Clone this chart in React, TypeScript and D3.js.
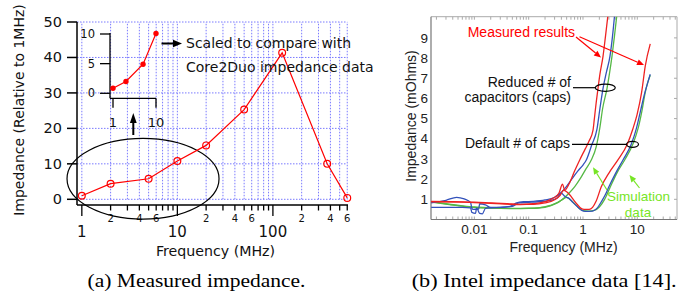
import React from 'react';
import * as d3 from 'd3';

// ---------- (a) Measured impedance ----------
const freqMHz = [1, 2, 5, 10, 20, 50, 125, 370, 600];
const impedanceRel = [1, 4.4, 5.8, 10.8, 15.2, 25.3, 41.3, 10.0, 0.4];
const insetFreq = [1, 2, 5, 10];
const insetImp = [0.85, 2.0, 4.9, 10.1];
const leftYTicks = [0, 10, 20, 30, 40, 50];
const leftMajorX = [1, 10, 100];
const leftMinorLabels = [2, 4, 6, 20, 40, 60, 200, 400, 600];
const insetYTicks = [0, 5, 10];
const insetXTicks = [1, 10];

// ---------- (b) Intel impedance data ----------
const rightYTicks = [1, 2, 3, 4, 5, 6, 7, 8, 9];
const rightXTicks = [0.01, 0.1, 1, 10];
const rightXLabels = ['0.01', '0.1', '1', '10'];

const redReduced: [number, number][] = [
  [0.0016, 0.88], [0.004, 0.87], [0.01, 0.84], [0.02, 0.8], [0.04, 0.76], [0.07, 0.74],
  [0.12, 0.78], [0.2, 0.88], [0.28, 1.05], [0.36, 1.3], [0.42, 1.75], [0.46, 1.45],
  [0.55, 1.75], [0.7, 2.4], [0.87, 2.95], [1.1, 3.5], [1.3, 3.9], [1.53, 4.43],
  [1.62, 5.0], [1.75, 5.8], [1.89, 6.5], [2.05, 7.2], [2.34, 8.1], [2.6, 9.1], [2.9, 10.2],
];
const redDefault: [number, number][] = [
  [0.0016, 0.9], [0.004, 0.88], [0.01, 0.86], [0.02, 0.82], [0.04, 0.78], [0.07, 0.75],
  [0.12, 0.75], [0.2, 0.82], [0.3, 0.98], [0.38, 1.2], [0.44, 1.45], [0.5, 1.38],
  [0.58, 1.2], [0.68, 0.95], [0.8, 0.72], [0.92, 0.55], [1.05, 0.5], [1.3, 0.5],
  [1.5, 0.6], [1.74, 0.9], [2.17, 1.62], [3.0, 2.3], [4.4, 2.95], [6.5, 3.72],
  [8.3, 4.5], [9.9, 5.2], [12, 6.3], [14, 7.6], [17.3, 8.7],
];
const greenReduced: [number, number][] = [
  [0.0016, 0.88], [0.003, 0.78], [0.006, 0.68], [0.01, 0.62], [0.02, 0.58], [0.05, 0.55],
  [0.1, 0.56], [0.15, 0.58], [0.25, 0.7], [0.4, 0.95], [0.55, 1.3], [0.7, 1.62],
  [0.9, 2.05], [1.1, 2.45], [1.42, 2.95], [1.75, 3.6], [2.03, 4.5], [2.3, 5.5],
  [2.77, 6.5], [3.1, 7.3], [3.42, 8.1], [3.8, 9.1], [4.23, 10.2],
];
const greenDefault: [number, number][] = [
  [0.0016, 0.86], [0.003, 0.76], [0.006, 0.66], [0.01, 0.6], [0.02, 0.56], [0.05, 0.54],
  [0.1, 0.55], [0.15, 0.57], [0.25, 0.68], [0.35, 0.85], [0.45, 1.05], [0.5, 1.1],
  [0.6, 0.95], [0.75, 0.7], [0.9, 0.5], [1.0, 0.44], [1.3, 0.42], [1.6, 0.45],
  [2.0, 0.62], [2.5, 1.0], [3.19, 1.62], [4.2, 2.3], [5.85, 2.95], [8.3, 3.74],
  [10.3, 4.5], [12.2, 5.4], [14, 6.3], [15.7, 6.82], [17.3, 7.15],
];
const blueReduced: [number, number][] = [
  [0.0016, 0.83], [0.003, 0.95], [0.0047, 1.1], [0.0065, 1.02], [0.0085, 0.85],
  [0.009, 0.55], [0.0095, 0.5], [0.012, 0.52], [0.0125, 0.78], [0.016, 0.72],
  [0.02, 0.6], [0.03, 0.6], [0.045, 0.65], [0.06, 0.82], [0.08, 0.88], [0.12, 0.9],
  [0.2, 0.97], [0.3, 1.1], [0.4, 1.35], [0.49, 1.62], [0.62, 2.0], [0.8, 2.4],
  [1.0, 2.7], [1.15, 2.95], [1.45, 3.7], [1.8, 4.45], [2.05, 5.5], [2.34, 6.5],
  [2.7, 7.3], [3.14, 8.1], [3.5, 9.1], [3.84, 10.2],
];
const blueDefault: [number, number][] = [
  [0.0016, 0.6], [0.003, 0.6], [0.006, 0.6], [0.0085, 0.58], [0.009, 0.35],
  [0.0105, 0.3], [0.011, 0.58], [0.0125, 0.3], [0.014, 0.28], [0.016, 0.55],
  [0.02, 0.58], [0.03, 0.6], [0.05, 0.65], [0.065, 0.82], [0.1, 0.85], [0.15, 0.88],
  [0.25, 0.95], [0.33, 1.05], [0.4, 1.3], [0.46, 1.15], [0.55, 1.05], [0.65, 0.85],
  [0.8, 0.62], [0.95, 0.45], [1.1, 0.4], [1.5, 0.42], [1.8, 0.55], [2.2, 0.9],
  [2.6, 1.25], [3.0, 1.62], [4.0, 2.3], [5.45, 2.95], [7.77, 3.74], [9.6, 4.5],
  [11.5, 5.4], [13.5, 6.2], [15.7, 6.82], [17.3, 7.2],
];

const SANS_L = 'DejaVu Sans, sans-serif';
const SANS_R = 'Liberation Sans, Arial, sans-serif';
const SERIF = 'Liberation Serif, Times New Roman, serif';

const RED = '#ff0000';
const CURVE_RED = '#ee2222';
const CURVE_BLUE = '#3352bb';
const CURVE_GREEN = '#55b845';
const TEXT_GREEN = '#77e526';
const GRID = '#7a7aff';

function arrow(x1: number, y1: number, x2: number, y2: number, len = 7, w = 3) {
  const a = Math.atan2(y2 - y1, x2 - x1);
  const bx = x2 - len * Math.cos(a);
  const by = y2 - len * Math.sin(a);
  const px = -Math.sin(a) * w;
  const py = Math.cos(a) * w;
  return {
    line: `M${x1},${y1}L${bx},${by}`,
    head: `M${x2},${y2}L${bx + px},${by + py}L${bx - px},${by - py}Z`,
  };
}

function Arrow({ x1, y1, x2, y2, color, len = 7, w = 3, sw = 1.2 }: any) {
  const a = arrow(x1, y1, x2, y2, len, w);
  return (
    <g>
      <path d={a.line} stroke={color} strokeWidth={sw} fill="none" />
      <path d={a.head} fill={color} stroke="none" />
    </g>
  );
}

export default function App() {
  // Left scales
  const xL = d3.scaleLog().domain([0.89, 611]).range([77, 348]);
  const yL = d3.scaleLinear().domain([0, 50]).range([199.3, 22]);
  const axisY = 205;

  const logTicks: { v: number; major: boolean }[] = [];
  [1, 10, 100].forEach((dec) => {
    for (let k = 1; k <= 9; k++) {
      const v = k * dec;
      if (v <= 600) logTicks.push({ v, major: k === 1 });
    }
  });

  const mainLine = d3
    .line<number>()
    .x((_, i) => xL(freqMHz[i]))
    .y((d) => yL(d))(impedanceRel) as string;

  // Inset scales
  const xI = d3.scaleLog().domain([1, 10]).range([113, 156]);
  const yI = d3.scaleLinear().domain([0, 10]).range([93.3, 34]);
  const insetLine = d3
    .line<number>()
    .x((_, i) => xI(insetFreq[i]))
    .y((d) => yI(d))(insetImp) as string;

  // Right scales
  const xR = d3.scaleLog().domain([0.00159, 53.8]).range([431, 677]);
  const yR = d3.scaleLinear().domain([0, 10.05]).range([219.5, 16.7]);
  const lineR = d3
    .line<[number, number]>()
    .x((d) => xR(d[0]))
    .y((d) => yR(d[1]))
    .curve(d3.curveMonotoneX);

  const rightMinor: number[] = [];
  [0.001, 0.01, 0.1, 1, 10].forEach((dec) => {
    for (let k = 1; k <= 9; k++) {
      const v = k * dec;
      if (v >= 0.00159 && v <= 53.8) rightMinor.push(v);
    }
  });

  const [rx0, rx1] = xR.range();
  const [ry0, ry1] = yR.range();

  return (
    <svg
      width={683}
      height={297}
      style={{ position: 'absolute', left: 0, top: 0, background: '#fff' }}
      xmlns="http://www.w3.org/2000/svg"
    >
      <rect x={0} y={0} width={683} height={297} fill="#fff" />

      {/* ================= LEFT CHART ================= */}
      <g>
        {/* grid */}
        {logTicks.map((t) => (
          <line
            key={'vg' + t.v}
            x1={xL(t.v)}
            x2={xL(t.v)}
            y1={yL(0)}
            y2={yL(50)}
            stroke={GRID}
            strokeWidth={1}
            strokeDasharray="1.5,1.5"
          />
        ))}
        {leftYTicks.map((t) => (
          <line
            key={'hg' + t}
            x1={77}
            x2={xL(600)}
            y1={yL(t)}
            y2={yL(t)}
            stroke={GRID}
            strokeWidth={1}
            strokeDasharray="1.5,1.5"
          />
        ))}

        {/* axes */}
        <line x1={77} x2={77} y1={yL(50)} y2={axisY} stroke="#000" strokeWidth={1.5} />
        <line x1={77} x2={348} y1={axisY} y2={axisY} stroke="#000" strokeWidth={1.5} />
        {leftYTicks.map((t) => (
          <g key={'yt' + t}>
            <line x1={67} x2={77} y1={yL(t)} y2={yL(t)} stroke="#000" strokeWidth={1.5} />
            <text
              x={62}
              y={yL(t) + 5}
              textAnchor="end"
              fontFamily={SANS_L}
              fontSize={14.5}
              fill="#111"
            >
              {t}
            </text>
          </g>
        ))}
        {logTicks.map((t) => (
          <line
            key={'xt' + t.v}
            x1={xL(t.v)}
            x2={xL(t.v)}
            y1={axisY}
            y2={axisY + (t.major ? 11 : 5.5)}
            stroke="#000"
            strokeWidth={1.3}
          />
        ))}
        {leftMajorX.map((t) => (
          <text
            key={'xl' + t}
            x={xL(t)}
            y={236.7}
            textAnchor="middle"
            fontFamily={SANS_L}
            fontSize={15}
            fill="#111"
          >
            {t}
          </text>
        ))}
        {leftMinorLabels.map((t) => (
          <text
            key={'xm' + t}
            x={xL(t)}
            y={222}
            textAnchor="middle"
            fontFamily={SANS_L}
            fontSize={10}
            fill="#111"
          >
            {String(t)[0]}
          </text>
        ))}

        {/* axis titles */}
        <text
          transform="translate(24,110) rotate(-90)"
          textAnchor="middle"
          fontFamily={SANS_L}
          fontSize={14}
          fill="#111"
        >
          Impedance (Relative to 1MHz)
        </text>
        <text x={215.5} y={256} textAnchor="middle" fontFamily={SANS_L} fontSize={14.2} fill="#111">
          Frequency (MHz)
        </text>

        {/* ellipse highlight */}
        <ellipse
          cx={xL(4.37)}
          cy={yL(5.8)}
          rx={76}
          ry={40.3}
          fill="none"
          stroke="#000"
          strokeWidth={1.2}
        />

        {/* main series */}
        <path d={mainLine} fill="none" stroke={RED} strokeWidth={1.2} />
        {impedanceRel.map((v, i) => (
          <circle
            key={'pt' + i}
            cx={xL(freqMHz[i])}
            cy={yL(v)}
            r={3.4}
            fill="none"
            stroke={RED}
            strokeWidth={1.2}
          />
        ))}

        {/* inset */}
        <line x1={110} x2={110} y1={33} y2={98.3} stroke="#000" strokeWidth={1.3} />
        <line x1={110} x2={156} y1={98.3} y2={98.3} stroke="#000" strokeWidth={1.3} />
        {insetYTicks.map((t) => (
          <g key={'iy' + t}>
            <line x1={100} x2={110} y1={yI(t)} y2={yI(t)} stroke="#000" strokeWidth={1.3} />
            <text x={95} y={yI(t) + 4} textAnchor="end" fontFamily={SANS_L} fontSize={11.5} fill="#111">
              {t}
            </text>
          </g>
        ))}
        {insetXTicks.map((t) => (
          <g key={'ix' + t}>
            <line x1={xI(t)} x2={xI(t)} y1={98.3} y2={107.7} stroke="#000" strokeWidth={1.3} />
            <text x={xI(t)} y={127} textAnchor="middle" fontFamily={SANS_L} fontSize={13} fill="#111">
              {t}
            </text>
          </g>
        ))}
        <path d={insetLine} fill="none" stroke={RED} strokeWidth={1.2} />
        {insetImp.map((v, i) => (
          <circle key={'ip' + i} cx={xI(insetFreq[i])} cy={yI(v)} r={2.7} fill={RED} />
        ))}

        {/* annotations */}
        <Arrow x1={161.5} y1={43.5} x2={182} y2={43.5} color="#000" len={9} w={3.8} sw={2} />
        <Arrow x1={133.3} y1={135} x2={133.3} y2={113} color="#000" len={10} w={3.4} sw={2} />
        <text x={186} y={48} fontFamily={SANS_L} fontSize={14} fill="#111">
          Scaled to compare with
        </text>
        <text x={186} y={71.5} fontFamily={SANS_L} fontSize={14} fill="#111">
          Core2Duo impedance data
        </text>
      </g>

      <text
        x={196.5}
        y={286.7}
        textAnchor="middle"
        fontFamily={SERIF}
        fontSize={19}
        textLength={218}
        lengthAdjust="spacingAndGlyphs"
        fill="#000"
      >
        (a) Measured impedance.
      </text>

      {/* ================= RIGHT CHART ================= */}
      <g>
        <defs>
          <clipPath id="rclip">
            <rect x={rx0} y={ry1} width={rx1 - rx0} height={ry0 - ry1} />
          </clipPath>
        </defs>

        {/* frame */}
        <line x1={rx0} x2={rx1} y1={ry1} y2={ry1} stroke="#aaa" strokeWidth={1} />
        <line x1={rx1} x2={rx1} y1={ry1} y2={ry0} stroke="#aaa" strokeWidth={1} />
        {rightMinor.map((v) => (
          <g key={'rm' + v}>
            <line x1={xR(v)} x2={xR(v)} y1={ry1} y2={ry1 + 3} stroke="#aaa" strokeWidth={1} />
            <line x1={xR(v)} x2={xR(v)} y1={ry0} y2={ry0 - 3} stroke="#aaa" strokeWidth={1} />
          </g>
        ))}
        {rightYTicks.map((t) => (
          <line key={'rt' + t} x1={rx1} x2={rx1 - 3} y1={yR(t)} y2={yR(t)} stroke="#aaa" strokeWidth={1} />
        ))}
        <line x1={rx0} x2={rx0} y1={ry1} y2={ry0} stroke="#777" strokeWidth={1.2} />
        <line x1={rx0} x2={rx1} y1={ry0} y2={ry0} stroke="#777" strokeWidth={1.2} />

        {/* curves */}
        <g clipPath="url(#rclip)" fill="none" strokeWidth={1.3}>
          <path d={lineR(greenDefault) as string} stroke={CURVE_GREEN} />
          <path d={lineR(greenReduced) as string} stroke={CURVE_GREEN} />
          <path d={lineR(blueDefault) as string} stroke={CURVE_BLUE} />
          <path d={lineR(blueReduced) as string} stroke={CURVE_BLUE} />
          <path d={lineR(redDefault) as string} stroke={CURVE_RED} />
          <path d={lineR(redReduced) as string} stroke={CURVE_RED} />
        </g>

        {/* tick labels */}
        {rightYTicks.map((t) => (
          <text
            key={'ryl' + t}
            x={428}
            y={yR(t) + 4.7}
            textAnchor="end"
            fontFamily={SANS_R}
            fontSize={13.5}
            fill="#222"
          >
            {t}
          </text>
        ))}
        {rightXTicks.map((t, i) => (
          <text
            key={'rxl' + t}
            x={xR(t)}
            y={234}
            textAnchor="middle"
            fontFamily={SANS_R}
            fontSize={13.5}
            fill="#222"
          >
            {rightXLabels[i]}
          </text>
        ))}
        <text x={563.5} y={252} textAnchor="middle" fontFamily={SANS_R} fontSize={14} fill="#222">
          Frequency (MHz)
        </text>
        <text
          transform="translate(415.5,116) rotate(-90)"
          textAnchor="middle"
          fontFamily={SANS_R}
          fontSize={14}
          fill="#222"
        >
          Impedance (mOhms)
        </text>

        {/* annotations */}
        <text x={467.7} y={36.7} fontFamily={SANS_R} fontSize={14} fill={RED}>
          Measured results
        </text>
        <Arrow x1={576} y1={37} x2={601} y2={57.5} color={RED} len={7} w={3} sw={1.2} />
        <Arrow x1={579.5} y1={36.7} x2={644} y2={65} color={RED} len={7} w={3} sw={1.2} />

        <text x={571} y={86.5} textAnchor="end" fontFamily={SANS_R} fontSize={14} fill="#111">
          Reduced # of
        </text>
        <text x={571} y={101.7} textAnchor="end" fontFamily={SANS_R} fontSize={14} fill="#111">
          capacitors (caps)
        </text>
        <line x1={573} x2={595.3} y1={87.7} y2={87.7} stroke="#000" strokeWidth={1.2} />
        <ellipse cx={605.3} cy={87.7} rx={10} ry={3.6} fill="none" stroke="#000" strokeWidth={1.2} />

        <text x={570} y={148} textAnchor="end" fontFamily={SANS_R} fontSize={14} fill="#111">
          Default # of caps
        </text>
        <line x1={572} x2={626.5} y1={144.3} y2={144.3} stroke="#000" strokeWidth={1.2} />
        <ellipse cx={632.5} cy={144.3} rx={6} ry={3} fill="none" stroke="#000" strokeWidth={1.2} />

        <text x={607} y={200.5} fontFamily={SANS_R} fontSize={13.5} fill={TEXT_GREEN}>
          Simulation
        </text>
        <text x={638} y={216.8} textAnchor="middle" fontFamily={SANS_R} fontSize={13.5} fill={TEXT_GREEN}>
          data
        </text>
        <Arrow x1={607} y1={190} x2={593} y2={167.3} color={TEXT_GREEN} len={7} w={3} sw={1.2} />
        <Arrow x1={639.5} y1={188} x2={629.5} y2={175} color={TEXT_GREEN} len={7} w={3} sw={1.2} />
      </g>

      <text
        x={544.2}
        y={286.7}
        textAnchor="middle"
        fontFamily={SERIF}
        fontSize={19}
        textLength={265}
        lengthAdjust="spacingAndGlyphs"
        fill="#000"
      >
        (b) Intel impedance data [14].
      </text>
    </svg>
  );
}
